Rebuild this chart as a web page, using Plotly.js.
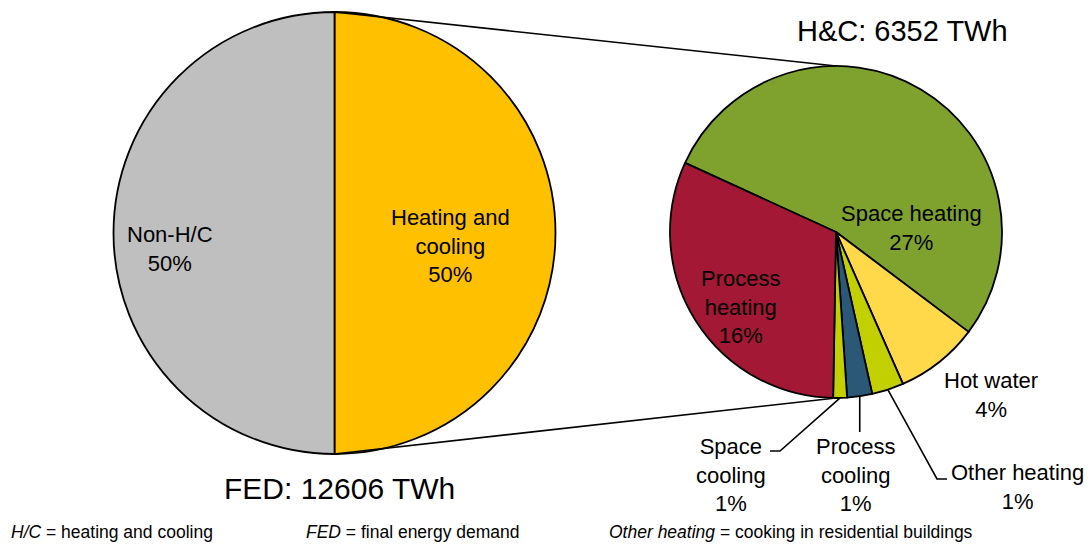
<!DOCTYPE html>
<html>
<head>
<meta charset="utf-8">
<script src="https://cdn.plot.ly/plotly-3.0.1.min.js"></script>
<style>html,body{margin:0;padding:0;background:#fff;}#chart{width:1091px;height:544px;}</style>
</head>
<body>
<div id="chart"></div>
<script>
// ---- data ----
const fedLabels = ['Heating and cooling', 'Non-H/C'];
const fedValues = [50, 50];                 // % of final energy demand
const fedTexts  = ['Heating and<br>cooling<br>50%', 'Non-H/C<br>50%'];

const hcLabels = ['Space heating', 'Hot water', 'Other heating', 'Process cooling', 'Space cooling', 'Process heating'];
const hcValues = [3395, 516, 197, 155, 85, 2005];   // TWh
const hcTexts  = ['Space heating<br>27%', 'Hot water<br>4%', 'Other heating<br>1%', 'Process<br>cooling<br>1%', 'Space<br>cooling<br>1%', 'Process<br>heating<br>16%'];

const titleHC  = 'H&C: 6352 TWh';
const titleFED = 'FED: 12606 TWh';
const footnotes = ['<i>H/C</i> = heating and cooling', '<i>FED</i> = final energy demand', '<i>Other heating</i> = cooking in residential buildings'];

// ---- layout helpers ----
const W = 1091, H = 544;
const px = x => x / W;
const py = y => 1 - y / H;
const FONT = 'Liberation Sans, Arial, sans-serif';

const leftDom  = {x: [px(113.5), px(555.5)], y: [py(454), py(12)]};
const rightDom = {x: [px(670), px(1002)], y: [py(398), py(66)]};
const hcRotation = 294.6;

function pieGeom(dom) {
  const cx = (dom.x[0] + dom.x[1]) / 2 * W;
  const cy = (1 - (dom.y[0] + dom.y[1]) / 2) * H;
  const r = Math.min((dom.x[1] - dom.x[0]) * W, (dom.y[1] - dom.y[0]) * H) / 2;
  return {cx, cy, r};
}
const L = pieGeom(leftDom), R = pieGeom(rightDom);

// mid angle of each H&C slice (clockwise from top)
const hcTotal = hcValues.reduce((a, b) => a + b, 0);
const hcMid = [];
let acc = hcRotation;
hcValues.forEach(v => { const span = v / hcTotal * 360; hcMid.push(acc + span / 2); acc += span; });
function edgePt(i) {
  const a = hcMid[i] * Math.PI / 180;
  return [R.cx + R.r * Math.sin(a), R.cy - R.r * Math.cos(a)];
}

const traces = [
  {
    type: 'pie', labels: fedLabels, values: fedValues, sort: false, direction: 'clockwise', rotation: 0,
    domain: leftDom, textinfo: 'none', hoverinfo: 'label+percent',
    marker: {colors: ['#FFC000', '#BFBFBF'], line: {color: '#000', width: 1.8}}
  },
  {
    type: 'pie', labels: hcLabels, values: hcValues, sort: false, direction: 'clockwise', rotation: hcRotation,
    domain: rightDom, textinfo: 'none', hoverinfo: 'label+value',
    marker: {colors: ['#7EA22D', '#FFD94A', '#C2CF00', '#2C5878', '#C2CF00', '#A31834'], line: {color: '#000', width: 1.8}}
  }
];

// label positions (pixel centres)
const fedPos = [[450, 246], [170, 249]];
const hcPos  = [[911, 228], [991, 395], [1017, 487], [855, 475], [731, 475], [740, 307]];

const annotations = [];
function ann(text, x, y, size, xanchor) {
  annotations.push({text, x: px(x), y: py(y), xref: 'paper', yref: 'paper', showarrow: false,
    xanchor: xanchor || 'center', yanchor: 'middle', font: {family: FONT, size, color: '#000'}});
}
fedTexts.forEach((t, i) => ann(t, fedPos[i][0], fedPos[i][1], 22));
hcTexts.forEach((t, i) => ann(t, hcPos[i][0], hcPos[i][1], 22));
ann(titleHC, 902, 31, 29);
ann(titleFED, 339, 488, 30);
ann(footnotes[0], 9, 532, 17.5, 'left');
ann(footnotes[1], 304, 532, 17.5, 'left');
ann(footnotes[2], 607, 532, 17.5, 'left');

// connector lines between the two pies
const shapes = [];
function line(points) {
  const d = points.map((p, i) => (i ? 'L' : 'M') + px(p[0]) + ',' + py(p[1])).join(' ');
  shapes.push({type: 'path', xref: 'paper', yref: 'paper', path: d, line: {color: '#000', width: 1.6}});
}
line([[L.cx, L.cy - L.r], [R.cx, R.cy - R.r]]);
line([[L.cx, L.cy + L.r], [R.cx, R.cy + R.r]]);
// leader lines for small slices
line([edgePt(4), [780, 451], [770, 451]]);
const pc = edgePt(3);
line([pc, [pc[0], 432]]);
line([edgePt(2), [937, 479], [947, 479]]);

const layout = {
  width: W, height: H, margin: {l: 0, r: 0, t: 0, b: 0},
  paper_bgcolor: '#fff', plot_bgcolor: '#fff', showlegend: false,
  font: {family: FONT, color: '#000'},
  annotations, shapes
};
Plotly.newPlot('chart', traces, layout, {displayModeBar: false, staticPlot: true});
</script>
</body>
</html>
